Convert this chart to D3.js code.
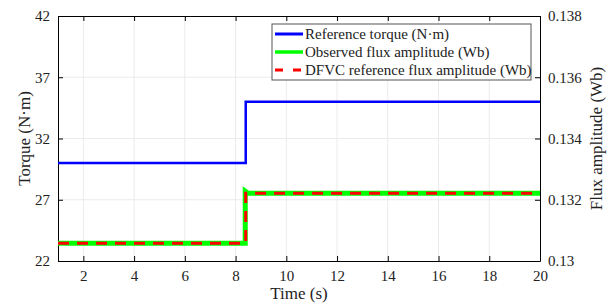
<!DOCTYPE html>
<html>
<head>
<meta charset="utf-8">
<script src="https://cdn.jsdelivr.net/npm/d3@7"></script>
<style>
  body { margin: 0; background: #fff; }
</style>
</head>
<body>
<svg class="chart" width="616" height="306"></svg>
<script>
// data
var torqueTime = [1, 8.4, 8.4, 20];
var torqueRef = [30, 30, 35, 35];
var fluxObsTime = [1, 8.38, 8.38, 8.5, 20];
var fluxObs = [0.13058, 0.13058, 0.13228, 0.13221, 0.13221];
var fluxRefTime = [1, 8.4, 8.4, 20];
var fluxRef = [0.13058, 0.13058, 0.13221, 0.13221];
var xTicks = [2, 4, 6, 8, 10, 12, 14, 16, 18, 20];
var yLeftTicks = [22, 27, 32, 37, 42];
var yRightTicks = [0.13, 0.132, 0.134, 0.136, 0.138];
var legendLabels = ["Reference torque (N\u00b7m)", "Observed flux amplitude (Wb)", "DFVC reference flux amplitude (Wb)"];

var serif = "'Liberation Serif', 'DejaVu Serif', serif";

var svg = d3.select(".chart");
var margin = {top: 16, right: 76, bottom: 45, left: 58};
var width = +svg.attr("width") - margin.left - margin.right;
var height = +svg.attr("height") - margin.top - margin.bottom;

var xScale = d3.scaleLinear().domain([1, 20]).range([0, width]);
var yLeft = d3.scaleLinear().domain([22, 42]).range([height, 0]);
var yRight = d3.scaleLinear().domain([0.13, 0.138]).range([height, 0]);

var g = svg.append("g")
    .attr("transform", "translate(" + margin.left + "," + margin.top + ")");

// grid
g.append("g").selectAll("line").data(xTicks.slice(0, -1)).enter().append("line")
    .attr("x1", function (d) { return xScale(d); }).attr("x2", function (d) { return xScale(d); })
    .attr("y1", 0).attr("y2", height)
    .attr("stroke", "#ebebeb").attr("stroke-width", 1);
g.append("g").selectAll("line").data(yLeftTicks.slice(1, -1)).enter().append("line")
    .attr("x1", 0).attr("x2", width)
    .attr("y1", function (d) { return yLeft(d); }).attr("y2", function (d) { return yLeft(d); })
    .attr("stroke", "#ebebeb").attr("stroke-width", 1);

// axes
function styleAxis(sel) {
    sel.attr("font-family", serif);
    sel.selectAll("path").attr("stroke", "#000").attr("stroke-width", 1);
    sel.selectAll("line").attr("stroke", "#000");
    sel.selectAll("text").attr("fill", "#222")
        .style("font-family", serif).style("font-size", "15px");
}

g.append("g")
    .attr("transform", "translate(0," + height + ")")
    .call(d3.axisBottom(xScale).tickValues(xTicks).tickSize(-5).tickSizeOuter(0).tickPadding(9))
    .call(styleAxis);
g.append("g")
    .call(d3.axisTop(xScale).tickValues(xTicks).tickSize(-5).tickSizeOuter(0).tickFormat(""))
    .call(styleAxis);
g.append("g")
    .call(d3.axisLeft(yLeft).tickValues(yLeftTicks).tickSize(-5).tickSizeOuter(0).tickPadding(8))
    .call(styleAxis);
g.append("g")
    .attr("transform", "translate(" + width + ",0)")
    .call(d3.axisRight(yRight).tickValues(yRightTicks).tickSize(-5).tickSizeOuter(0).tickPadding(8)
        .tickFormat(function (d) { return d3.format("")(+d.toFixed(3)); }))
    .call(styleAxis);

// lines
var fluxLine = d3.line()
    .x(function (d) { return xScale(d[0]); })
    .y(function (d) { return yRight(d[1]); });
var torqueLine = d3.line()
    .x(function (d) { return xScale(d[0]); })
    .y(function (d) { return yLeft(d[1]); });

g.append("path")
    .datum(fluxObsTime.map(function (t, i) { return [t, fluxObs[i]]; }))
    .attr("d", fluxLine)
    .attr("fill", "none").attr("stroke", "#00ff00").attr("stroke-width", 5);
g.append("path")
    .datum(fluxRefTime.map(function (t, i) { return [t, fluxRef[i]]; }))
    .attr("d", fluxLine)
    .attr("fill", "none").attr("stroke", "#ff0000").attr("stroke-width", 3)
    .attr("stroke-dasharray", "11,8");
g.append("path")
    .datum(torqueTime.map(function (t, i) { return [t, torqueRef[i]]; }))
    .attr("d", torqueLine)
    .attr("fill", "none").attr("stroke", "#0000ff").attr("stroke-width", 2.5);

// axis titles
svg.append("text")
    .attr("transform", "translate(24," + (margin.top + height / 2) + ") rotate(-90)")
    .attr("text-anchor", "middle").attr("dy", "0.35em")
    .style("font-family", serif).style("font-size", "17px").attr("fill", "#222")
    .text("Torque (N\u00b7m)");
svg.append("text")
    .attr("transform", "translate(596," + (margin.top + height / 2) + ") rotate(-90)")
    .attr("text-anchor", "middle").attr("dy", "0.35em")
    .style("font-family", serif).style("font-size", "17px").attr("fill", "#222")
    .text("Flux amplitude (Wb)");
svg.append("text")
    .attr("x", margin.left + width / 2).attr("y", 299)
    .attr("text-anchor", "middle")
    .style("font-family", serif).style("font-size", "17px").attr("fill", "#222")
    .text("Time (s)");

// legend
var legend = svg.append("g").attr("transform", "translate(272,24)");
legend.append("rect")
    .attr("width", 259).attr("height", 56)
    .attr("fill", "#fff").attr("stroke", "#555").attr("stroke-width", 1);
var legendStyles = [
    {stroke: "#0000ff", width: 3, dash: null},
    {stroke: "#00ff00", width: 3.5, dash: null},
    {stroke: "#ff0000", width: 3, dash: "8,10"}
];
var items = legend.selectAll(".legend").data(legendLabels).enter().append("g")
    .attr("class", "legend")
    .attr("transform", function (d, i) { return "translate(0," + (10 + i * 18) + ")"; });
items.append("line")
    .attr("x1", 3).attr("x2", 31).attr("y1", 0).attr("y2", 0)
    .attr("stroke", function (d, i) { return legendStyles[i].stroke; })
    .attr("stroke-width", function (d, i) { return legendStyles[i].width; })
    .attr("stroke-dasharray", function (d, i) { return legendStyles[i].dash; });
items.append("text")
    .attr("x", 33).attr("dy", "0.35em")
    .style("font-family", serif).style("font-size", "15px").attr("fill", "#222")
    .text(function (d) { return d; });
</script>
</body>
</html>
